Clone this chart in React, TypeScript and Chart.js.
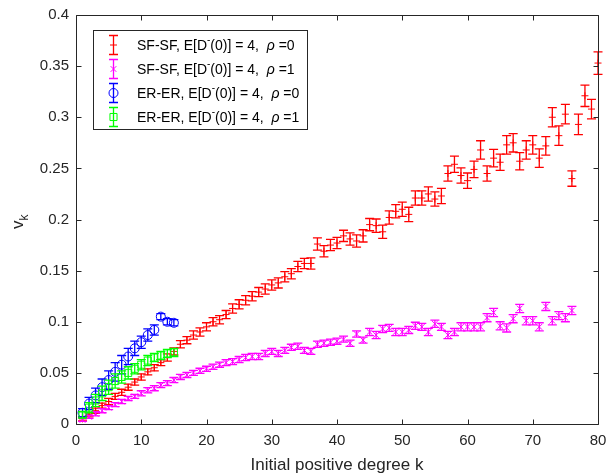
import React, { useEffect, useRef } from 'react';
import { Chart, registerables } from 'chart.js';

Chart.register(...registerables);

// ---------------- data ----------------
const kRed = [1,2,3,4,5,6,7,8,9,10,11,12,13,14,15,16,17,18,19,20,21,22,23,24,25,26,27,28,29,30,31,32,33,34,35,36,37,38,39,40,41,42,43,44,45,46,47,48,49,50,51,52,53,54,55,56,57,58,59,60,61,62,63,64,65,66,67,68,69,70,71,72,73,74,75,76,77,78,79,80];
const vRed = [0.005,0.009,0.013,0.018,0.022,0.027,0.031,0.036,0.041,0.046,0.051,0.055,0.060,0.065,0.071,0.078,0.082,0.087,0.090,0.095,0.100,0.102,0.107,0.113,0.117,0.121,0.125,0.129,0.132,0.136,0.138,0.144,0.147,0.154,0.157,0.157,0.176,0.169,0.175,0.177,0.184,0.181,0.179,0.184,0.195,0.194,0.188,0.202,0.208,0.210,0.205,0.221,0.221,0.225,0.220,0.223,0.245,0.254,0.243,0.238,0.249,0.268,0.245,0.260,0.256,0.273,0.275,0.257,0.268,0.273,0.260,0.272,0.300,0.282,0.303,0.240,0.293,0.321,0.308,0.353];
const eRed = [0.002,0.002,0.0025,0.0025,0.003,0.003,0.003,0.003,0.003,0.003,0.003,0.003,0.003,0.0035,0.0035,0.0035,0.0035,0.004,0.004,0.004,0.004,0.004,0.004,0.0045,0.0045,0.0045,0.0045,0.0045,0.005,0.005,0.005,0.005,0.005,0.005,0.005,0.0055,0.006,0.0055,0.0055,0.0055,0.0055,0.006,0.006,0.006,0.006,0.0065,0.0065,0.0065,0.0065,0.007,0.007,0.007,0.007,0.007,0.007,0.0075,0.0075,0.008,0.0075,0.0075,0.008,0.009,0.0075,0.0085,0.008,0.009,0.009,0.0085,0.009,0.009,0.009,0.009,0.0095,0.0095,0.0095,0.0075,0.01,0.0105,0.0095,0.011];

const kMag = [1,2,3,4,5,6,7,8,9,10,11,12,13,14,15,16,17,18,19,20,21,22,23,24,25,26,27,28,29,30,31,32,33,34,35,36,37,38,39,40,41,42,43,44,45,46,47,48,49,50,51,52,53,54,55,56,57,58,59,60,61,62,63,64,65,66,67,68,69,70,71,72,73,74,75,76];
const vMag = [0.004,0.007,0.010,0.013,0.016,0.019,0.022,0.025,0.027,0.030,0.033,0.035,0.038,0.040,0.043,0.046,0.048,0.050,0.052,0.054,0.056,0.058,0.060,0.061,0.063,0.065,0.066,0.066,0.069,0.071,0.069,0.072,0.075,0.076,0.072,0.071,0.078,0.079,0.080,0.081,0.083,0.079,0.088,0.082,0.090,0.087,0.093,0.094,0.090,0.090,0.092,0.096,0.095,0.090,0.098,0.095,0.087,0.090,0.095,0.095,0.095,0.095,0.104,0.109,0.096,0.094,0.103,0.113,0.101,0.101,0.095,0.115,0.101,0.106,0.104,0.111];
const eMag = [0.0015,0.0015,0.002,0.002,0.002,0.002,0.002,0.002,0.002,0.0025,0.0025,0.0025,0.0025,0.0025,0.0025,0.0025,0.0025,0.0025,0.0025,0.0025,0.0025,0.0025,0.003,0.003,0.003,0.003,0.003,0.003,0.003,0.003,0.003,0.003,0.003,0.003,0.003,0.003,0.003,0.003,0.003,0.003,0.003,0.003,0.003,0.003,0.0035,0.0035,0.0035,0.0035,0.0035,0.0035,0.0035,0.0035,0.0035,0.0035,0.0035,0.0035,0.0035,0.0035,0.004,0.004,0.004,0.004,0.004,0.004,0.004,0.004,0.004,0.004,0.004,0.004,0.004,0.004,0.004,0.004,0.004,0.004];

const kBlue = [1,2,3,4,5,6,7,8,9,10,11,12,13,14,15];
const vBlue = [0.011,0.020,0.028,0.036,0.043,0.051,0.058,0.066,0.074,0.080,0.087,0.092,0.105,0.100,0.099];
const eBlue = [0.004,0.006,0.007,0.008,0.009,0.009,0.009,0.008,0.007,0.006,0.006,0.005,0.003,0.003,0.003];

const kGreen = [1,2,3,4,5,6,7,8,9,10,11,12,13,14,15];
const vGreen = [0.009,0.016,0.023,0.030,0.036,0.042,0.046,0.050,0.054,0.058,0.062,0.065,0.067,0.069,0.070];
const eGreen = [0.003,0.005,0.006,0.007,0.007,0.007,0.006,0.006,0.005,0.005,0.005,0.004,0.004,0.004,0.004];

const xTicks = [0,10,20,30,40,50,60,70,80];
const yTicks = [0,0.05,0.1,0.15,0.2,0.25,0.3,0.35,0.4];
const yTickLabels = ['0','0.05','0.1','0.15','0.2','0.25','0.3','0.35','0.4'];

const seriesNames = ['SF-SF', 'SF-SF', 'ER-ER', 'ER-ER'];
const rhoValues = ['0', '1', '0', '1'];
const xTitle = 'Initial positive degree k';

// ---------------- style ----------------
const AXIS = '#262626';
const FONT = '"Liberation Sans", Arial, Helvetica, sans-serif';
const COLORS = ['#ff0000', '#ff00ff', '#0000ff', '#00ff00'];
const STYLES = ['cross', 'crossRot', 'circle', 'rect'];
const RADII = [3.5, 4, 4.5, 5];
const BAR_W = 1.3;

function drawMarker(ctx: CanvasRenderingContext2D, style: string, x: number, y: number, r: number) {
  ctx.beginPath();
  if (style === 'cross') {
    ctx.moveTo(x - r, y); ctx.lineTo(x + r, y);
    ctx.moveTo(x, y - r); ctx.lineTo(x, y + r);
  } else if (style === 'crossRot') {
    const d = r * Math.SQRT1_2;
    ctx.moveTo(x - d, y - d); ctx.lineTo(x + d, y + d);
    ctx.moveTo(x - d, y + d); ctx.lineTo(x + d, y - d);
  } else if (style === 'circle') {
    ctx.arc(x, y, r, 0, Math.PI * 2);
  } else {
    const s = r * Math.SQRT1_2;
    ctx.rect(x - s, y - s, 2 * s, 2 * s);
  }
  ctx.stroke();
}

const errorBarPlugin = {
  id: 'errorBars',
  afterDatasetDraw(chart: any, args: any) {
    const ds = chart.data.datasets[args.index];
    const errs: number[] = ds.errors;
    if (!errs) return;
    const ctx = chart.ctx;
    const xs = chart.scales.x;
    const ys = chart.scales.y;
    ctx.save();
    ctx.strokeStyle = COLORS[ds.seriesIndex];
    ctx.lineWidth = BAR_W;
    const cap = 4.5;
    ds.data.forEach((p: any, i: number) => {
      const px = xs.getPixelForValue(p.x);
      const yt = ys.getPixelForValue(p.y + errs[i]);
      const yb = ys.getPixelForValue(p.y - errs[i]);
      ctx.beginPath();
      ctx.moveTo(px, yt); ctx.lineTo(px, yb);
      ctx.moveTo(px - cap, yt); ctx.lineTo(px + cap, yt);
      ctx.moveTo(px - cap, yb); ctx.lineTo(px + cap, yb);
      ctx.stroke();
    });
    ctx.restore();
  },
};

const framePlugin = {
  id: 'frame',
  afterDraw(chart: any) {
    const ctx = chart.ctx;
    const { left, right, top, bottom } = chart.chartArea;
    const xs = chart.scales.x;
    const ys = chart.scales.y;
    ctx.save();
    ctx.strokeStyle = AXIS;
    ctx.lineWidth = 1;
    const L = left + 0.5, R = right + 0.5, T = top + 0.5, B = bottom + 0.5;
    ctx.beginPath();
    ctx.rect(L, T, R - L, B - T);
    ctx.stroke();
    const tl = 5;
    ctx.beginPath();
    xTicks.forEach((v) => {
      const px = Math.round(xs.getPixelForValue(v)) + 0.5;
      ctx.moveTo(px, B); ctx.lineTo(px, B - tl);
      ctx.moveTo(px, T); ctx.lineTo(px, T + tl);
    });
    yTicks.forEach((v) => {
      const py = Math.round(ys.getPixelForValue(v)) + 0.5;
      ctx.moveTo(L, py); ctx.lineTo(L + tl, py);
      ctx.moveTo(R, py); ctx.lineTo(R - tl, py);
    });
    ctx.stroke();

    // axis titles
    ctx.fillStyle = AXIS;
    ctx.font = `17px ${FONT}`;
    ctx.textAlign = 'center';
    ctx.textBaseline = 'middle';
    ctx.fillText(xTitle, (left + right) / 2, 465);

    ctx.save();
    ctx.translate(23, 229);
    ctx.rotate(-Math.PI / 2);
    ctx.textAlign = 'left';
    ctx.textBaseline = 'alphabetic';
    ctx.font = `17px ${FONT}`;
    ctx.fillText('v', 0, 0);
    const vw = ctx.measureText('v').width;
    ctx.font = `12px ${FONT}`;
    ctx.fillText('k', vw, 5);
    ctx.restore();

    // legend
    const bx = 93, by = 30, bw = 214, bh = 99;
    ctx.fillStyle = '#ffffff';
    ctx.fillRect(bx, by, bw, bh);
    ctx.strokeStyle = AXIS;
    ctx.lineWidth = 1;
    ctx.strokeRect(bx + 0.5, by + 0.5, bw, bh);
    const rows = [45, 69, 93, 117];
    rows.forEach((ry, i) => {
      const sx = 113.5;
      ctx.strokeStyle = COLORS[i];
      ctx.lineWidth = BAR_W;
      ctx.beginPath();
      ctx.moveTo(sx, ry - 9.5); ctx.lineTo(sx, ry + 9.5);
      ctx.moveTo(sx - 4.5, ry - 9.5); ctx.lineTo(sx + 4.5, ry - 9.5);
      ctx.moveTo(sx - 4.5, ry + 9.5); ctx.lineTo(sx + 4.5, ry + 9.5);
      ctx.stroke();
      ctx.lineWidth = 1;
      drawMarker(ctx, STYLES[i], sx, ry, RADII[i]);
      ctx.fillStyle = '#000000';
      ctx.textAlign = 'left';
      ctx.textBaseline = 'middle';
      let tx = 137;
      const ty = ry + 1;
      const part = (s: string, font: string, dy = 0) => {
        ctx.font = font;
        ctx.fillText(s, tx, ty + dy);
        tx += ctx.measureText(s).width;
      };
      const normal = `14px ${FONT}`;
      part(`${seriesNames[i]}, E[D`, normal);
      part('-', `10px ${FONT}`, -6);
      part('(0)] = 4,  ', normal);
      part('\u03c1', `italic 14px ${FONT}`);
      part(` =${rhoValues[i]}`, normal);
    });
    ctx.restore();
  },
};

function makeData(ks: number[], vs: number[]) {
  return ks.map((k, i) => ({ x: k, y: vs[i] }));
}

export default function App() {
  const ref = useRef<HTMLCanvasElement | null>(null);
  useEffect(() => {
    if (!ref.current) return;
    const sets = [
      { k: kRed, v: vRed, e: eRed },
      { k: kMag, v: vMag, e: eMag },
      { k: kBlue, v: vBlue, e: eBlue },
      { k: kGreen, v: vGreen, e: eGreen },
    ];
    const chart = new Chart(ref.current, {
      type: 'scatter',
      data: {
        datasets: sets.map((s, i) => ({
          label: `${seriesNames[i]} rho=${rhoValues[i]}`,
          data: makeData(s.k, s.v),
          errors: s.e,
          seriesIndex: i,
          showLine: false,
          borderColor: COLORS[i],
          backgroundColor: 'rgba(0,0,0,0)',
          pointStyle: STYLES[i],
          pointRadius: RADII[i],
          pointBorderWidth: 1,
          pointBorderColor: COLORS[i],
          pointBackgroundColor: 'rgba(0,0,0,0)',
          pointHoverRadius: RADII[i],
          clip: false,
          order: 4 - i,
        })) as any,
      },
      options: {
        animation: false,
        responsive: false,
        devicePixelRatio: 1,
        layout: { padding: { top: 15, right: 9, left: 0, bottom: 0 } },
        plugins: {
          legend: { display: false },
          tooltip: { enabled: false },
          title: { display: false },
        },
        events: [],
        scales: {
          x: {
            type: 'linear',
            min: 0,
            max: 80,
            afterBuildTicks: (s: any) => { s.ticks = xTicks.map((v) => ({ value: v })); },
            afterFit: (s: any) => { s.height = 51; s.paddingLeft = 0; s.paddingRight = 0; },
            grid: { display: false, drawTicks: false },
            border: { display: false },
            ticks: {
              color: AXIS,
              font: { family: FONT, size: 15 },
              padding: 8,
              maxRotation: 0,
              callback: (v: any) => String(v),
            },
          },
          y: {
            type: 'linear',
            min: 0,
            max: 0.4,
            afterBuildTicks: (s: any) => { s.ticks = yTicks.map((v) => ({ value: v })); },
            afterFit: (s: any) => { s.width = 76; s.paddingTop = 0; s.paddingBottom = 0; },
            grid: { display: false, drawTicks: false },
            border: { display: false },
            ticks: {
              color: AXIS,
              font: { family: FONT, size: 15 },
              padding: 7,
              callback: (v: any) => {
                const idx = yTicks.findIndex((t) => Math.abs(t - v) < 1e-9);
                return idx >= 0 ? yTickLabels[idx] : '';
              },
            },
          },
        },
      } as any,
      plugins: [errorBarPlugin, framePlugin],
    });
    return () => chart.destroy();
  }, []);
  return (
    <div style={{ position: 'fixed', left: 0, top: 0, width: 607, height: 475, background: '#fff' }}>
      <canvas ref={ref} width={607} height={475} style={{ display: 'block', width: 607, height: 475 }} />
    </div>
  );
}
